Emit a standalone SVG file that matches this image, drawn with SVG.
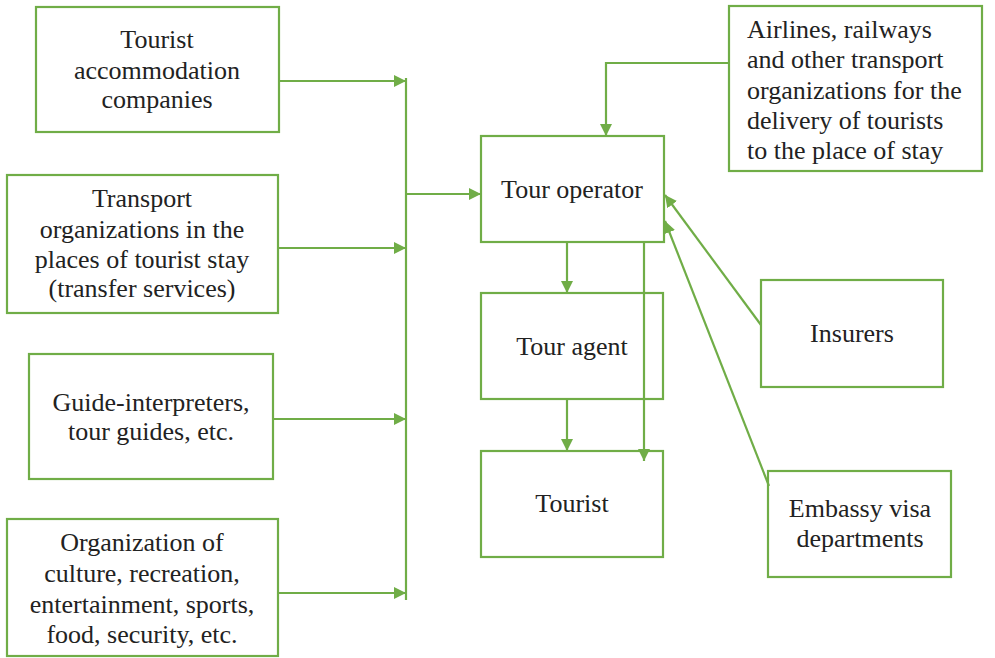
<svg xmlns="http://www.w3.org/2000/svg" width="995" height="658" viewBox="0 0 995 658">
<style>
.box{fill:none;stroke:#70ad47;stroke-width:2.2}
.ln{fill:none;stroke:#70ad47;stroke-width:2.2}
.c{text-anchor:middle}
</style>
<defs>
<marker id="ah" markerUnits="userSpaceOnUse" markerWidth="14" markerHeight="12" refX="12" refY="6" orient="auto">
<path d="M0,0 L12,6 L0,12 Z" fill="#70ad47"/>
</marker>
</defs>
<g font-family="Liberation Serif, serif" font-size="26" fill="#222">
<g id="n-accommodation">
<rect class="box" x="36" y="7" width="243" height="125"/>
<text class="c" x="157" y="48">Tourist</text>
<text class="c" x="157" y="79">accommodation</text>
<text class="c" x="157" y="108">companies</text>
</g>
<g id="n-transport">
<rect class="box" x="7" y="175" width="271" height="138"/>
<text class="c" x="142" y="207">Transport</text>
<text class="c" x="142" y="238">organizations in the</text>
<text class="c" x="142" y="268">places of tourist stay</text>
<text class="c" x="142" y="297">(transfer services)</text>
</g>
<g id="n-guides">
<rect class="box" x="29" y="354" width="244" height="125"/>
<text class="c" x="151" y="411">Guide-interpreters,</text>
<text class="c" x="151" y="440">tour guides, etc.</text>
</g>
<g id="n-culture">
<rect class="box" x="7" y="519" width="271" height="137"/>
<text class="c" x="142" y="551">Organization of</text>
<text class="c" x="142" y="582">culture, recreation,</text>
<text class="c" x="142" y="613">entertainment, sports,</text>
<text class="c" x="142" y="643">food, security, etc.</text>
</g>
<g id="n-operator">
<rect class="box" x="481" y="136" width="183" height="106"/>
<text class="c" x="572" y="198">Tour operator</text>
</g>
<g id="n-agent">
<rect class="box" x="481" y="293" width="182" height="106"/>
<text class="c" x="572" y="355">Tour agent</text>
</g>
<g id="n-tourist">
<rect class="box" x="481" y="451" width="182" height="106"/>
<text class="c" x="572" y="512">Tourist</text>
</g>
<g id="n-airlines">
<rect class="box" x="729" y="6" width="253" height="165"/>
<text x="747" y="38">Airlines, railways</text>
<text x="747" y="68">and other transport</text>
<text x="747" y="99">organizations for the</text>
<text x="747" y="129">delivery of tourists</text>
<text x="747" y="159">to the place of stay</text>
</g>
<g id="n-insurers">
<rect class="box" x="761" y="280" width="182" height="107"/>
<text class="c" x="852" y="342">Insurers</text>
</g>
<g id="n-embassy">
<rect class="box" x="768" y="471" width="183" height="106"/>
<text class="c" x="860" y="517">Embassy visa</text>
<text class="c" x="860" y="547">departments</text>
</g>
</g>
<g id="connectors">
<line class="ln" x1="279" y1="81" x2="406" y2="81" marker-end="url(#ah)"/>
<line class="ln" x1="278" y1="248" x2="406" y2="248" marker-end="url(#ah)"/>
<line class="ln" x1="273" y1="419" x2="406" y2="419" marker-end="url(#ah)"/>
<line class="ln" x1="278" y1="593" x2="406" y2="593" marker-end="url(#ah)"/>
<line class="ln" x1="406" y1="78" x2="406" y2="600"/>
<line class="ln" x1="406" y1="194" x2="481" y2="194" marker-end="url(#ah)"/>
<polyline class="ln" points="729,63 606,63 606,136" marker-end="url(#ah)"/>
<line class="ln" x1="567" y1="242" x2="567" y2="293" marker-end="url(#ah)"/>
<line class="ln" x1="567" y1="399" x2="567" y2="451" marker-end="url(#ah)"/>
<line class="ln" x1="644" y1="242" x2="644" y2="461" marker-end="url(#ah)"/>
<line class="ln" x1="761" y1="325" x2="665" y2="195" marker-end="url(#ah)"/>
<line class="ln" x1="769" y1="486" x2="665" y2="221" marker-end="url(#ah)"/>
</g>
</svg>
